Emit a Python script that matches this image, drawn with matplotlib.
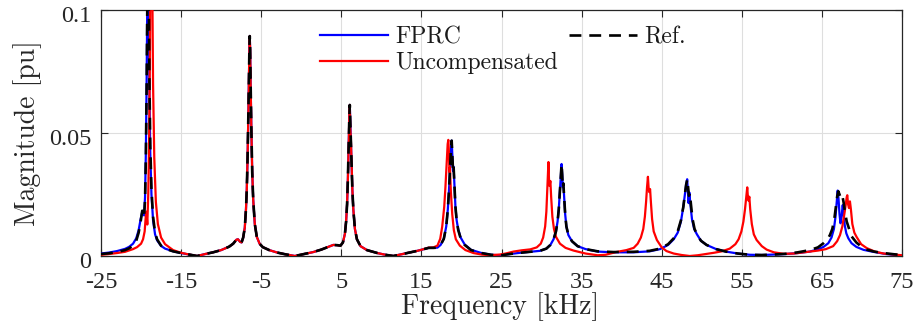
import numpy as np
import matplotlib
matplotlib.use("Agg")
import matplotlib.pyplot as plt
from matplotlib.lines import Line2D
from matplotlib.transforms import ScaledTranslation

# Frequency axis [kHz] and magnitude [pu] for each spectrum, as (f, |X|) pairs
ref_curve = [
    (-25.0, 0.0008), (-24.0, 0.0011), (-23.0, 0.0016), (-22.0, 0.0024), (-21.5, 0.0031),
    (-21.0, 0.0042), (-20.6, 0.0062), (-20.3, 0.0095), (-20.05, 0.0140), (-19.85, 0.0184),
    (-19.75, 0.0175), (-19.62, 0.0160), (-19.5, 0.0230), (-19.4, 0.040), (-19.3, 0.070),
    (-19.2, 0.110), (-19.12, 0.140), (-19.05, 0.110), (-18.95, 0.070), (-18.85, 0.045),
    (-18.7, 0.027), (-18.5, 0.016), (-18.25, 0.0095), (-18.0, 0.0068), (-17.5, 0.0042),
    (-17.0, 0.0030), (-16.0, 0.0019), (-15.0, 0.0012), (-14.0, 0.0006), (-13.0, 0.0),
    (-12.0, 0.0008), (-11.0, 0.0015), (-10.0, 0.0024), (-9.0, 0.0038), (-8.5, 0.0050),
    (-8.1, 0.0066), (-7.9, 0.0068), (-7.65, 0.0058), (-7.45, 0.0055), (-7.25, 0.0075),
    (-7.05, 0.0115), (-6.9, 0.019), (-6.8, 0.027), (-6.7, 0.040), (-6.6, 0.058),
    (-6.52, 0.076), (-6.47, 0.085), (-6.43, 0.0894), (-6.38, 0.084), (-6.32, 0.070),
    (-6.22, 0.050), (-6.12, 0.034), (-6.0, 0.023), (-5.8, 0.013), (-5.55, 0.0078),
    (-5.2, 0.0050), (-4.8, 0.0036), (-4.0, 0.0024), (-3.0, 0.0014), (-2.0, 0.0007),
    (-0.8, 0.0), (0.5, 0.0009), (1.5, 0.0016), (2.5, 0.0026), (3.3, 0.0036),
    (4.0, 0.0045), (4.5, 0.0044), (4.9, 0.0042), (5.2, 0.0055), (5.45, 0.009),
    (5.6, 0.014), (5.72, 0.021), (5.82, 0.031), (5.92, 0.045), (6.0, 0.056),
    (6.06, 0.0614), (6.12, 0.055), (6.2, 0.046), (6.28, 0.038), (6.38, 0.027),
    (6.5, 0.019), (6.7, 0.011), (6.95, 0.0068), (7.4, 0.0040), (8.2, 0.0024),
    (9.5, 0.0012), (10.5, 0.0005), (11.5, 0.0), (12.5, 0.0007), (13.5, 0.0014),
    (14.5, 0.0021), (15.3, 0.0028), (15.9, 0.0033), (16.5, 0.0033), (17.0, 0.0034),
    (17.4, 0.0045), (17.8, 0.0070), (18.1, 0.012), (18.3, 0.019), (18.45, 0.027),
    (18.58, 0.036), (18.7, 0.044), (18.78, 0.0469), (18.86, 0.041), (18.95, 0.0345),
    (19.02, 0.0363), (19.12, 0.029), (19.25, 0.020), (19.4, 0.0145), (19.6, 0.0105),
    (19.9, 0.0072), (20.4, 0.0045), (21.2, 0.0024), (22.5, 0.0012), (23.7, 0.0005),
    (24.8, 0.0002), (26.0, 0.0008), (27.3, 0.0013), (28.5, 0.0017), (29.8, 0.0021),
    (30.6, 0.0030), (31.1, 0.0045), (31.5, 0.0068), (31.8, 0.010), (32.0, 0.014),
    (32.15, 0.019), (32.28, 0.026), (32.4, 0.033), (32.5, 0.0374), (32.58, 0.033),
    (32.65, 0.028), (32.72, 0.0295), (32.82, 0.024), (32.95, 0.017), (33.1, 0.012),
    (33.35, 0.0085), (33.8, 0.0060), (34.5, 0.0040), (35.5, 0.0028), (37.0, 0.0019),
    (39.0, 0.0016), (41.5, 0.0017), (43.5, 0.0021), (44.8, 0.0030), (45.8, 0.0048),
    (46.5, 0.0072), (47.0, 0.010), (47.4, 0.0145), (47.7, 0.020), (47.9, 0.025),
    (48.05, 0.029), (48.2, 0.0312), (48.3, 0.028), (48.4, 0.0245), (48.52, 0.0255),
    (48.65, 0.021), (48.85, 0.015), (49.1, 0.0110), (49.4, 0.0088), (49.9, 0.0062),
    (50.6, 0.0045), (51.8, 0.0028), (53.0, 0.0018), (54.5, 0.0010), (56.0, 0.0005),
    (57.5, 0.0004), (59.0, 0.0006), (60.5, 0.0009), (62.0, 0.0015), (63.5, 0.0024),
    (64.5, 0.0035), (65.2, 0.0052), (65.7, 0.0068), (66.0, 0.0085), (66.3, 0.011),
    (66.55, 0.015), (66.75, 0.020), (66.92, 0.0245), (67.05, 0.0263), (67.2, 0.025),
    (67.35, 0.0235), (67.55, 0.0245), (67.7, 0.022), (67.9, 0.0175), (68.1, 0.0140),
    (68.35, 0.0115), (68.7, 0.0080), (69.3, 0.0055), (70.0, 0.0036), (70.6, 0.0026),
    (71.5, 0.0018), (72.7, 0.0012), (74.0, 0.0007), (75.0, 0.0004),
]

fprc_curve = [
    (-25.0, 0.0010), (-24.0, 0.0014), (-23.0, 0.0020), (-22.0, 0.0029), (-21.5, 0.0037),
    (-21.0, 0.0050), (-20.6, 0.0072), (-20.3, 0.0105), (-20.05, 0.0150), (-19.85, 0.0180),
    (-19.75, 0.0172), (-19.62, 0.0165), (-19.5, 0.024), (-19.4, 0.042), (-19.3, 0.072),
    (-19.2, 0.112), (-19.12, 0.140), (-19.05, 0.108), (-18.95, 0.066), (-18.85, 0.042),
    (-18.7, 0.025), (-18.5, 0.0145), (-18.25, 0.0088), (-18.0, 0.0064), (-17.5, 0.0041),
    (-17.0, 0.0030), (-16.0, 0.0019), (-15.0, 0.0012), (-14.0, 0.0006), (-13.0, 0.0),
    (-12.0, 0.0008), (-11.0, 0.0015), (-10.0, 0.0024), (-9.0, 0.0038), (-8.5, 0.0050),
    (-8.1, 0.0066), (-7.9, 0.0068), (-7.65, 0.0058), (-7.45, 0.0055), (-7.25, 0.0075),
    (-7.05, 0.0115), (-6.9, 0.019), (-6.8, 0.027), (-6.7, 0.040), (-6.6, 0.058),
    (-6.52, 0.076), (-6.47, 0.085), (-6.43, 0.0894), (-6.38, 0.084), (-6.32, 0.070),
    (-6.22, 0.050), (-6.12, 0.034), (-6.0, 0.023), (-5.8, 0.013), (-5.55, 0.0078),
    (-5.2, 0.0050), (-4.8, 0.0036), (-4.0, 0.0024), (-3.0, 0.0014), (-2.0, 0.0007),
    (-0.8, 0.0), (0.5, 0.0009), (1.5, 0.0016), (2.5, 0.0026), (3.3, 0.0036),
    (4.0, 0.0045), (4.5, 0.0044), (4.9, 0.0042), (5.2, 0.0055), (5.45, 0.009),
    (5.6, 0.014), (5.72, 0.021), (5.82, 0.031), (5.92, 0.045), (6.0, 0.056),
    (6.06, 0.0614), (6.12, 0.055), (6.2, 0.046), (6.28, 0.038), (6.38, 0.027),
    (6.5, 0.019), (6.7, 0.011), (6.95, 0.0068), (7.4, 0.0040), (8.2, 0.0024),
    (9.5, 0.0012), (10.5, 0.0005), (11.5, 0.0), (12.5, 0.0007), (13.5, 0.0014),
    (14.5, 0.0021), (15.3, 0.0028), (15.9, 0.0033), (16.5, 0.0033), (17.0, 0.0034),
    (17.4, 0.0045), (17.8, 0.0070), (18.1, 0.012), (18.3, 0.019), (18.45, 0.027),
    (18.58, 0.036), (18.7, 0.044), (18.78, 0.0469), (18.86, 0.041), (18.95, 0.0345),
    (19.02, 0.0363), (19.12, 0.029), (19.25, 0.020), (19.4, 0.0145), (19.6, 0.0108),
    (19.9, 0.0075), (20.4, 0.0047), (21.2, 0.0025), (22.5, 0.0012), (23.7, 0.0005),
    (24.8, 0.0003), (26.0, 0.0008), (27.3, 0.0013), (28.5, 0.0017), (29.8, 0.0021),
    (30.6, 0.0030), (31.1, 0.0045), (31.5, 0.0068), (31.8, 0.010), (32.0, 0.014),
    (32.15, 0.019), (32.28, 0.026), (32.4, 0.033), (32.5, 0.0374), (32.58, 0.033),
    (32.65, 0.028), (32.72, 0.0295), (32.82, 0.024), (32.95, 0.017), (33.1, 0.012),
    (33.35, 0.0085), (33.8, 0.0060), (34.5, 0.0040), (35.5, 0.0028), (37.0, 0.0018),
    (39.0, 0.0015), (41.5, 0.0015), (43.5, 0.0019), (44.8, 0.0028), (45.8, 0.0045),
    (46.5, 0.0068), (47.0, 0.0095), (47.4, 0.014), (47.7, 0.020), (47.9, 0.025),
    (48.05, 0.029), (48.18, 0.0312), (48.28, 0.026), (48.36, 0.0215), (48.45, 0.0258),
    (48.58, 0.021), (48.78, 0.015), (49.05, 0.0110), (49.4, 0.0088), (49.9, 0.0062),
    (50.6, 0.0045), (51.8, 0.0028), (53.0, 0.0018), (54.5, 0.0010), (56.0, 0.0005),
    (57.5, 0.0004), (59.0, 0.0006), (60.5, 0.0008), (62.0, 0.0012), (63.5, 0.0018),
    (64.5, 0.0027), (65.2, 0.0037), (65.8, 0.0052), (66.2, 0.0075), (66.5, 0.011),
    (66.7, 0.016), (66.85, 0.022), (66.97, 0.0266), (67.08, 0.023), (67.2, 0.017),
    (67.32, 0.0133), (67.45, 0.016), (67.6, 0.0207), (67.7, 0.018), (67.85, 0.0125),
    (68.05, 0.0092), (68.3, 0.0072), (68.7, 0.0052), (69.3, 0.0037), (70.2, 0.0025),
    (71.4, 0.0017), (73.0, 0.0008), (75.0, 0.0002),
]

uncomp_curve = [
    (-25.0, 0.0005), (-24.0, 0.0008), (-23.0, 0.0012), (-22.0, 0.0017), (-21.0, 0.0028),
    (-20.5, 0.0036), (-20.0, 0.0050), (-19.75, 0.0068), (-19.55, 0.0100), (-19.4, 0.0165),
    (-19.33, 0.0180), (-19.22, 0.0128), (-19.1, 0.025), (-19.0, 0.045), (-18.9, 0.080),
    (-18.8, 0.130), (-18.72, 0.160), (-18.62, 0.120), (-18.5, 0.070), (-18.35, 0.040),
    (-18.15, 0.022), (-17.9, 0.013), (-17.5, 0.0075), (-17.0, 0.0048), (-16.0, 0.0024),
    (-15.0, 0.0013), (-14.0, 0.0006), (-13.0, 0.0),
    (-12.0, 0.0008), (-11.0, 0.0015), (-10.0, 0.0024), (-9.0, 0.0038), (-8.5, 0.0050),
    (-8.1, 0.0066), (-7.9, 0.0068), (-7.65, 0.0058), (-7.45, 0.0055), (-7.25, 0.0075),
    (-7.05, 0.0115), (-6.9, 0.019), (-6.8, 0.027), (-6.7, 0.040), (-6.6, 0.058),
    (-6.52, 0.076), (-6.47, 0.085), (-6.43, 0.0894), (-6.38, 0.084), (-6.32, 0.070),
    (-6.22, 0.050), (-6.12, 0.034), (-6.0, 0.023), (-5.8, 0.013), (-5.55, 0.0078),
    (-5.2, 0.0050), (-4.8, 0.0036), (-4.0, 0.0024), (-3.0, 0.0014), (-2.0, 0.0007),
    (-0.8, 0.0), (0.5, 0.0009), (1.5, 0.0016), (2.5, 0.0026), (3.3, 0.0036),
    (4.0, 0.0045), (4.5, 0.0044), (4.9, 0.0042), (5.2, 0.0055), (5.45, 0.009),
    (5.6, 0.014), (5.72, 0.021), (5.82, 0.031), (5.92, 0.045), (6.0, 0.056),
    (6.06, 0.0614), (6.12, 0.052), (6.2, 0.047), (6.28, 0.038), (6.38, 0.027),
    (6.5, 0.019), (6.7, 0.011), (6.95, 0.0068), (7.4, 0.0040), (8.2, 0.0024),
    (9.5, 0.0012), (10.5, 0.0005), (11.5, 0.0), (12.5, 0.0007), (13.5, 0.0014),
    (14.5, 0.0021), (15.3, 0.0028), (15.9, 0.0034), (16.5, 0.0035), (17.0, 0.0042),
    (17.35, 0.0070), (17.6, 0.012), (17.85, 0.020), (18.0, 0.028), (18.15, 0.037),
    (18.28, 0.0455), (18.36, 0.0472), (18.44, 0.042), (18.5, 0.034), (18.56, 0.036),
    (18.68, 0.026), (18.85, 0.017), (19.05, 0.0105), (19.3, 0.0068), (19.8, 0.0042),
    (20.5, 0.0024), (21.5, 0.0012), (22.5, 0.0006), (23.5, 0.0003), (24.8, 0.0006),
    (25.5, 0.0010), (26.5, 0.0018), (27.5, 0.0023), (28.6, 0.0027), (29.4, 0.0035),
    (29.9, 0.0050), (30.2, 0.0075), (30.45, 0.012), (30.6, 0.018), (30.72, 0.027),
    (30.8, 0.034), (30.86, 0.0382), (30.93, 0.031), (31.0, 0.0285), (31.1, 0.0305),
    (31.2, 0.024), (31.35, 0.016), (31.55, 0.011), (31.8, 0.0078), (32.3, 0.0050),
    (33.0, 0.0033), (34.0, 0.0022), (35.5, 0.0010), (37.0, 0.0003), (38.0, 0.0005),
    (39.3, 0.0016), (40.6, 0.0024), (41.5, 0.0033), (42.0, 0.0050), (42.4, 0.0075),
    (42.7, 0.011), (42.9, 0.016), (43.05, 0.022), (43.17, 0.028), (43.28, 0.0322),
    (43.36, 0.028), (43.44, 0.026), (43.55, 0.0272), (43.65, 0.022), (43.8, 0.015),
    (44.0, 0.010), (44.4, 0.0065), (45.0, 0.0035), (45.6, 0.0020), (46.5, 0.0010),
    (47.5, 0.0004), (48.5, 0.0), (49.5, 0.0003), (50.5, 0.0008), (51.5, 0.0013),
    (52.5, 0.0019), (53.5, 0.0030), (54.2, 0.0048), (54.6, 0.0068), (54.95, 0.010),
    (55.2, 0.014), (55.4, 0.019), (55.55, 0.024), (55.68, 0.0279), (55.76, 0.024),
    (55.84, 0.0225), (55.94, 0.0241), (56.05, 0.019), (56.25, 0.013), (56.5, 0.0088),
    (56.85, 0.0065), (57.5, 0.0040), (58.1, 0.0026), (59.0, 0.0015), (60.2, 0.0009),
    (61.5, 0.0010), (62.5, 0.0014), (63.5, 0.0018), (64.5, 0.0022), (65.5, 0.0028),
    (66.4, 0.0040), (66.9, 0.0060), (67.26, 0.0085), (67.55, 0.012), (67.8, 0.017),
    (67.98, 0.021), (68.1, 0.0240), (68.17, 0.0247), (68.27, 0.021), (68.38, 0.0195),
    (68.5, 0.0222), (68.62, 0.019), (68.8, 0.013), (69.05, 0.0095), (69.34, 0.0077),
    (69.9, 0.0048), (70.6, 0.0032), (71.6, 0.0018), (72.7, 0.0010), (75.0, 0.0003),
]

ref_khz, ref_mag = np.array(ref_curve).T
fprc_khz, fprc_mag = np.array(fprc_curve).T
uncomp_khz, uncomp_mag = np.array(uncomp_curve).T

x_ticks = [-25, -15, -5, 5, 15, 25, 35, 45, 55, 65, 75]
x_tick_labels = ["-25", "-15", "-5", "5", "15", "25", "35", "45", "55", "65", "75"]
y_ticks = [0.0, 0.05, 0.1]
y_tick_labels = ["0", "0.05", "0.1"]
series_names = ["FPRC", "Uncompensated", "Ref."]

plt.rcParams["axes.unicode_minus"] = False

fig = plt.figure(figsize=(9.17, 3.33), dpi=100)
ax = fig.add_axes([101 / 917, 1 - 256 / 333, 801 / 917, 246 / 333])

lw = 1.6
dash = (0, (4.5, 3.0))
l_fprc, = ax.plot(fprc_khz, fprc_mag, color=(0, 0, 1), lw=lw, zorder=3)
l_unc, = ax.plot(uncomp_khz, uncomp_mag, color=(1, 0, 0), lw=lw, zorder=4)
l_ref, = ax.plot(ref_khz, ref_mag, color="black", lw=lw + 0.3,
                 linestyle=dash, zorder=5)

ax.set_xlim(-25, 75)
ax.set_ylim(0, 0.1)
ax.set_xticks(x_ticks)
ax.set_xticklabels(x_tick_labels)
ax.set_yticks(y_ticks)
ax.set_yticklabels(y_tick_labels)

ax.tick_params(direction="in", length=5, width=0.8, top=True, right=True,
               colors="#262626")
ax.tick_params(axis="x", pad=11.5)
ax.tick_params(axis="y", pad=7)

# tick numbers in a Times-like face; y numbers sit slightly below their ticks
y_shift = ScaledTranslation(0, -4 / 100, fig.dpi_scale_trans)
for lbl in ax.get_xticklabels() + ax.get_yticklabels():
    lbl.set_fontfamily("Liberation Serif")
    lbl.set_fontsize(17.5)
    lbl.set_color("#262626")
for lbl in ax.get_yticklabels():
    lbl.set_transform(lbl.get_transform() + y_shift)

ax.grid(True, color="#dedede", lw=0.8)
ax.set_axisbelow(True)
for sp in ax.spines.values():
    sp.set_color("#262626")
    sp.set_linewidth(0.9)

label_font = {"family": "cmr10", "size": 20, "color": "#262626"}
ax.set_xlabel("Frequency [kHz]", fontdict=label_font)
ax.set_ylabel("Magnitude [pu]", fontdict=label_font)
ax.xaxis.set_label_coords(0.498, -0.148)
ax.yaxis.set_label_coords(-0.074, 0.5)

leg = ax.legend([l_fprc, l_unc, Line2D([], [], color="black", lw=lw + 0.3,
                                       linestyle=dash)],
                series_names, ncol=2, frameon=False,
                loc="upper left", bbox_to_anchor=(320 / 917, 1 - 26 / 333),
                bbox_transform=fig.transFigure, borderpad=0, borderaxespad=0,
                handlelength=2.9, handletextpad=0.3, columnspacing=0.45,
                labelspacing=0.17, prop={"family": "cmr10", "size": 17})
for t in leg.get_texts():
    t.set_color("#1a1a1a")

fig.savefig("out.png", dpi=100)
